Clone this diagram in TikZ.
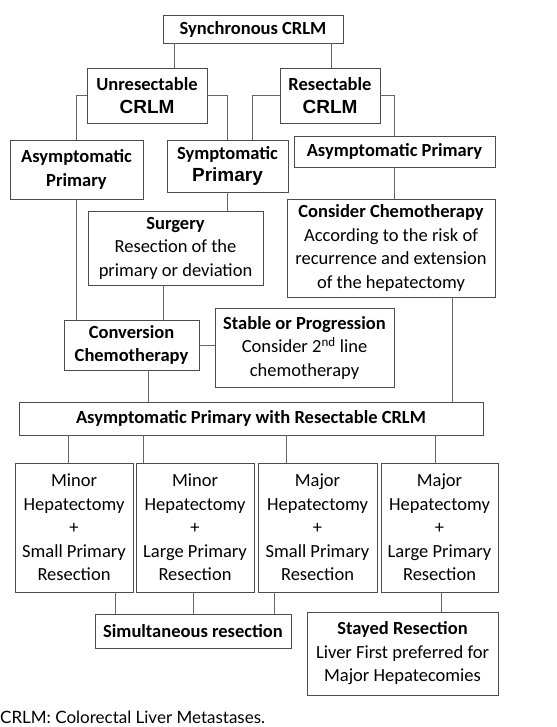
\documentclass[tikz,border=0pt]{standalone}
\usepackage{fontspec}
\setmainfont{Carlito}
\newfontfamily\arialfont{Liberation Sans}
\newfontfamily\notefont{Lato}
\newcommand\headfont{\arialfont\bfseries\fontsize{19}{23}\selectfont}
\usetikzlibrary{positioning}

\begin{document}
\begin{tikzpicture}[
  x=1pt,y=-1pt,
  font=\fontsize{18.5}{23.5}\selectfont,
  box/.style={draw=black!70,line width=0.8pt,align=center,inner sep=0pt},
  line/.style={draw=black!60,line width=0.8pt}
]
\useasboundingbox (0,0) rectangle (556,727);
% ---------------- top levels ----------------
\node[box,minimum width=180,minimum height=28] (sync) at (253,29) {\bfseries Synchronous CRLM};
\node[box,minimum width=120,minimum height=55] (unres) at (147,95.5)
     {\bfseries Unresectable\\[-1pt]{\headfont CRLM}};
\node[box,minimum width=100,minimum height=55] (res) at (330,95.5)
     {\bfseries Resectable\\[-1pt]{\headfont CRLM}};
\node[box,minimum width=133,minimum height=59] (asymL) at (76.5,169.5)
     {\bfseries Asymptomatic\\\bfseries Primary};
\node[box,minimum width=121,minimum height=52] (symp) at (227.5,166)
     {\bfseries Symptomatic\\[-2pt]{\headfont Primary}};
\node[box,minimum width=201,minimum height=31] (asymR) at (394.5,151.5)
     {\bfseries Asymptomatic Primary};

% ---------------- treatment ----------------
\node[box,minimum width=175,minimum height=74] (surg) at (175.5,248)
     {\bfseries Surgery\\Resection of the\\primary or deviation};
\node[box,minimum width=208,minimum height=98] (consider) at (391,248)
     {\bfseries Consider Chemotherapy\\According to the risk of\\recurrence and extension\\of the hepatectomy};
\node[box,minimum width=135,minimum height=50] (conv) at (131.5,345)
     {\bfseries Conversion\\\bfseries Chemotherapy};
\node[box,minimum width=179,minimum height=79] (stable) at (304.5,347.5)
     {\bfseries Stable or Progression\\Consider 2\textsuperscript{nd} line\\chemotherapy};
\node[box,minimum width=464,minimum height=33] (resect) at (251,418.5)
     {\bfseries Asymptomatic Primary with Resectable CRLM};

% ---------------- options ----------------
\node[box,minimum width=118,minimum height=129] (opt1) at (74,527.5)
     {Minor\\Hepatectomy\\+\\Small Primary\\Resection};
\node[box,minimum width=118,minimum height=129] (opt2) at (195,527.5)
     {Minor\\Hepatectomy\\+\\Large Primary\\Resection};
\node[box,minimum width=119,minimum height=129] (opt3) at (317.5,527.5)
     {Major\\Hepatectomy\\+\\Small Primary\\Resection};
\node[box,minimum width=117,minimum height=129] (opt4) at (439.5,527.5)
     {Major\\Hepatectomy\\+\\Large Primary\\Resection};
\node[box,minimum width=196,minimum height=34] (simul) at (193,631)
     {\bfseries Simultaneous resection};
\node[box,minimum width=191,minimum height=83] (stayed) at (402.5,653.5)
     {\bfseries Stayed Resection\\Liver First preferred for\\Major Hepatecomies};

\node[anchor=base west,inner sep=0pt,font=\notefont\fontsize{17}{20}\selectfont] (note) at (0,723)
     {CRLM: Colorectal Liver Metastases.};

% ---------------- connectors ----------------
\draw[line] ([xshift=-79pt]sync.south) -- ([xshift=-79pt]sync.south |- unres.north);
\draw[line] ([xshift=78pt]sync.south) -- ([xshift=78pt]sync.south |- res.north);
\draw[line] (unres.west) -| (asymL.north);
\draw[line] (unres.east) -| (symp.north);
\draw[line] (res.west) -| ([xshift=24.5pt]symp.north);
\draw[line] (res.east) -| (asymR.north);
\draw[line] (asymR.south) -- (asymR.south |- consider.north);
\draw[line] (asymL.south) -- (asymL.south |- conv.north);
\draw[line] (symp.south) -- (symp.south |- surg.north);
\draw[line] ([xshift=-12.5pt]surg.south) -- ([xshift=-12.5pt]surg.south |- conv.north);
\draw[line] (conv.east) -- (conv.east -| stable.west);
\draw[line] ([xshift=16.5pt]conv.south) -- ([xshift=16.5pt]conv.south |- resect.north);
\draw[line] ([xshift=61pt]consider.south) -- ([xshift=61pt]consider.south |- resect.north);
\draw[line] ([xshift=-6pt]opt1.north) -- ([xshift=-6pt]opt1.north |- resect.south);
\draw[line] ([xshift=-52pt]opt2.north) -- ([xshift=-52pt]opt2.north |- resect.south);
\draw[line] ([xshift=-31.5pt]opt3.north) -- ([xshift=-31.5pt]opt3.north |- resect.south);
\draw[line] ([xshift=-4.5pt]opt4.north) -- ([xshift=-4.5pt]opt4.north |- resect.south);
\draw[line] ([xshift=41pt]opt1.south) -- ([xshift=41pt]opt1.south |- simul.north);
\draw[line] ([xshift=-2pt]opt2.south) -- ([xshift=-2pt]opt2.south |- simul.north);
\draw[line] ([xshift=-43.5pt]opt3.south) -- ([xshift=-43.5pt]opt3.south |- simul.north);
\draw[line] ([xshift=1.5pt]opt4.south) -- ([xshift=1.5pt]opt4.south |- stayed.north);
\end{tikzpicture}
\end{document}
